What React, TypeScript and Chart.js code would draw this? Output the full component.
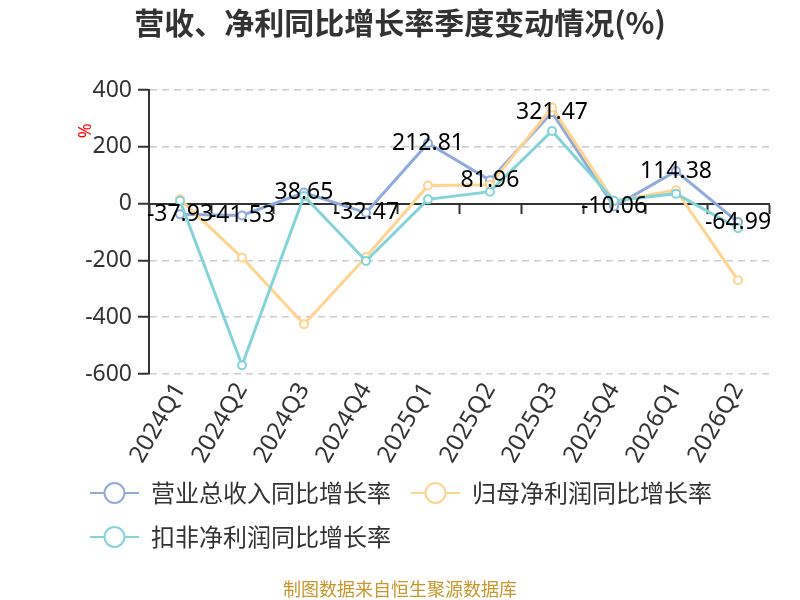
import { useEffect, useRef } from "react";
import { Chart, registerables } from "chart.js";

Chart.register(...registerables);

// quarters on the x axis
const quarters = [
  "2024Q1", "2024Q2", "2024Q3", "2024Q4",
  "2025Q1", "2025Q2", "2025Q3", "2025Q4",
  "2026Q1", "2026Q2",
];

// year-on-year growth, %
const revenueGrowth = [-37.93, -41.53, 38.65, -32.47, 212.81, 81.96, 321.47, -10.06, 114.38, -64.99];
const netProfitGrowth = [15, -190, -425, -188, 64, 66, 338, 8, 47, -270];
const deductedProfitGrowth = [10, -569, 27, -202, 15, 42, 256, 10, 35, -87];

const seriesNames = ["营业总收入同比增长率", "归母净利润同比增长率", "扣非净利润同比增长率"];
const seriesColors = ["#8eabdc", "#ffd48f", "#82d4d9"];

const yMin = -600;
const yMax = 400;
const yStep = 200;

const chartTitle = "营收、净利同比增长率季度变动情况(%)";
const yUnit = "%";
const sourceNote = "制图数据来自恒生聚源数据库";

const NUM_FONT = '"Noto Sans", "Noto Sans CJK SC", sans-serif';
const CJK_FONT = '"Noto Sans CJK SC", "Noto Sans", sans-serif';

function makeLegendSymbol(color: string) {
  const c = document.createElement("canvas");
  c.width = 49;
  c.height = 24;
  const g = c.getContext("2d")!;
  g.strokeStyle = color;
  g.lineWidth = 2;
  g.beginPath();
  g.moveTo(0, 12);
  g.lineTo(49, 12);
  g.stroke();
  g.beginPath();
  g.arc(24.5, 12, 10, 0, Math.PI * 2);
  g.fillStyle = "#fff";
  g.fill();
  g.stroke();
  return c;
}

// value labels on the revenue series only
const valueLabels = {
  id: "valueLabels",
  afterDatasetsDraw(chart: any) {
    const { ctx } = chart;
    const meta = chart.getDatasetMeta(0);
    ctx.save();
    ctx.font = `23px ${NUM_FONT}`;
    ctx.fillStyle = "#000";
    ctx.textAlign = "center";
    ctx.textBaseline = "middle";
    meta.data.forEach((pt: any, i: number) => {
      ctx.fillText(revenueGrowth[i].toFixed(2), pt.x, pt.y);
    });
    ctx.restore();
  },
};

// let the rotated quarter labels run into the legend band, like the original
const looseLabelClip = {
  id: "looseLabelClip",
  afterLayout(chart: any) {
    chart.scales.x.bottom += 20;
  },
};

// title, y unit and source note
const decor = {
  id: "decor",
  afterDraw(chart: any) {
    const { ctx } = chart;
    const y = chart.scales.y;
    ctx.save();
    ctx.textAlign = "center";
    ctx.textBaseline = "middle";
    ctx.fillStyle = "#333";
    ctx.font = `bold 30px ${CJK_FONT}`;
    ctx.fillText(chartTitle, 400, 23);

    ctx.fillStyle = "#c9962b";
    ctx.font = `18px ${CJK_FONT}`;
    ctx.fillText(sourceNote, 400, 589);

    ctx.translate(y.left + 16, y.getPixelForValue(200) - 16);
    ctx.rotate(-Math.PI / 2);
    ctx.fillStyle = "#ff0000";
    ctx.font = `18px ${NUM_FONT}`;
    ctx.fillText(yUnit, 0, 0);
    ctx.restore();
  },
};

export default function App() {
  const canvasRef = useRef<HTMLCanvasElement>(null);
  const chartRef = useRef<Chart | null>(null);

  useEffect(() => {
    if (!canvasRef.current) return;
    const ctx = canvasRef.current.getContext("2d");
    if (!ctx) return;

    if (chartRef.current) chartRef.current.destroy();

    const symbols = seriesColors.map(makeLegendSymbol);
    const series = [revenueGrowth, netProfitGrowth, deductedProfitGrowth];

    chartRef.current = new Chart(ctx, {
      type: "line",
      data: {
        labels: quarters,
        datasets: series.map((values, i) => ({
          label: seriesNames[i],
          data: values,
          borderColor: seriesColors[i],
          backgroundColor: seriesColors[i],
          borderWidth: 3,
          pointRadius: 4,
          pointBorderWidth: 2,
          pointBackgroundColor: "#fff",
          pointBorderColor: seriesColors[i],
          tension: 0,
          order: 3 - i,
        })),
      },
      options: {
        responsive: false,
        animation: false,
        events: [],
        layout: { padding: { left: 70, right: 31, top: 90, bottom: 41 } },
        plugins: {
          title: { display: false },
          tooltip: { enabled: false },
          legend: {
            position: "bottom",
            align: "start",
            labels: {
              usePointStyle: true,
              pointStyleWidth: 49,
              padding: 20,
              color: "#333",
              font: { size: 24, family: CJK_FONT },
              generateLabels: (chart: any) =>
                Chart.defaults.plugins.legend.labels
                  .generateLabels(chart)
                  .sort((a: any, b: any) => a.datasetIndex - b.datasetIndex)
                  .map((item: any) => ({ ...item, pointStyle: symbols[item.datasetIndex] })),
            },
          },
        },
        scales: {
          x: {
            type: "category",
            offset: true,
            grid: { display: false, drawTicks: false },
            border: { display: false },
            ticks: {
              autoSkip: false,
              minRotation: 60,
              maxRotation: 60,
              padding: 4,
              color: "#333",
              font: { size: 24, family: NUM_FONT },
            },
            afterFit: (scale: any) => {
              scale.height = 87;
            },
          },
          // zero line with category ticks
          x2: {
            type: "category",
            position: { y: 0 },
            offset: true,
            grid: {
              display: true,
              drawOnChartArea: false,
              drawTicks: true,
              tickLength: 9,
              tickColor: "#333",
              tickWidth: 2,
              offset: true,
            },
            border: { display: true, color: "#333", width: 2 },
            ticks: { display: false },
          },
          y: {
            min: yMin,
            max: yMax,
            ticks: {
              stepSize: yStep,
              padding: 6,
              color: "#333",
              font: { size: 23, family: NUM_FONT },
            },
            grid: {
              color: (c: any) => (c.tick && c.tick.value === 0 ? "rgba(0,0,0,0)" : "#cccccc"),
              lineWidth: 1.5,
              tickLength: 11,
              tickColor: "#333",
              tickWidth: 2,
              tickBorderDash: [],
            },
            border: { display: true, color: "#333", width: 2, dash: [7, 5] },
            afterFit: (scale: any) => {
              scale.width = 79;
            },
          },
        },
      } as any,
      plugins: [valueLabels, looseLabelClip, decor],
    });

    return () => {
      if (chartRef.current) {
        chartRef.current.destroy();
        chartRef.current = null;
      }
    };
  }, []);

  return (
    <div style={{ position: "absolute", left: 0, top: 0, width: 800, height: 600, background: "#fff" }}>
      <canvas ref={canvasRef} width={800} height={600}></canvas>
    </div>
  );
}
